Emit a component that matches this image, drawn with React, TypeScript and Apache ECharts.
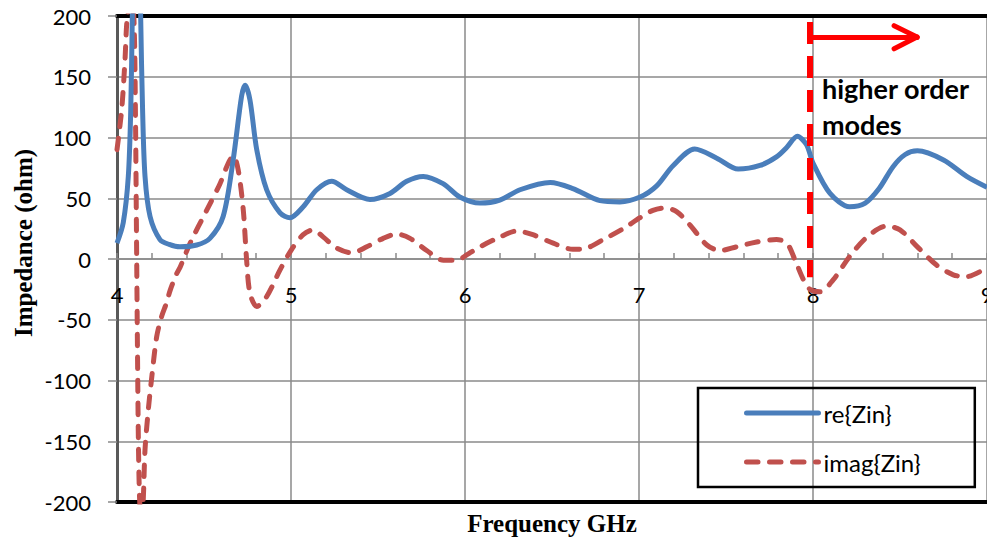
import React, { useEffect, useRef } from "react";
import * as echarts from "echarts";

// Real part of input impedance (ohm) vs frequency (GHz)
const reFreq = [
  4.0, 4.036, 4.065, 4.079, 4.088, 4.1, 4.112, 4.124, 4.136, 4.147, 4.161, 4.19, 4.247, 4.3, 4.362,
  4.458, 4.534, 4.61, 4.667, 4.716, 4.736, 4.764, 4.803, 4.86, 4.937, 4.994, 5.07, 5.148, 5.234,
  5.32, 5.454, 5.569, 5.665, 5.76, 5.874, 5.97, 6.086, 6.2, 6.316, 6.49, 6.62, 6.776, 6.89, 7.006,
  7.1, 7.197, 7.32, 7.447, 7.57, 7.695, 7.79, 7.85, 7.91, 7.963, 8.0, 8.098, 8.21, 8.3, 8.38, 8.46,
  8.53, 8.6, 8.75, 8.883, 9.0,
];
const reZin = [
  13, 30, 68, 123, 200, 320, 370, 320, 200, 123, 68, 35, 16, 12, 10,
  11.5, 17, 35, 81, 134, 143, 131, 90, 57, 38, 34, 43, 57, 64,
  57, 49, 54, 64, 68, 62, 51, 46, 48.5, 57, 63, 58, 48, 47, 51,
  60, 77, 90.5, 83, 74, 77, 84, 92, 101, 94, 79, 54, 43, 46, 58, 76,
  86, 89, 81.5, 68, 59,
];

// Imaginary part of input impedance (ohm) vs frequency (GHz)
const imFreq = [
  4.0, 4.027, 4.046, 4.056, 4.07, 4.085, 4.098, 4.106, 4.112, 4.118, 4.124, 4.132, 4.142, 4.151,
  4.161, 4.18, 4.2, 4.228, 4.257, 4.285, 4.305, 4.343, 4.362, 4.42, 4.515, 4.592, 4.64, 4.669,
  4.697, 4.726, 4.745, 4.764, 4.803, 4.86, 4.937, 5.004, 5.07, 5.127, 5.186, 5.262, 5.349, 5.435,
  5.53, 5.607, 5.684, 5.78, 5.876, 5.95, 6.017, 6.086, 6.2, 6.297, 6.39, 6.507, 6.62, 6.7, 6.795,
  6.91, 7.006, 7.08, 7.149, 7.216, 7.293, 7.39, 7.466, 7.56, 7.676, 7.79, 7.85, 7.897, 7.945,
  7.983, 8.04, 8.117, 8.21, 8.31, 8.42, 8.5, 8.6, 8.71, 8.806, 8.883, 9.0,
];
const imZin = [
  90, 123, 164, 194, 210, 212, 195, 120, 20, -80, -160, -205, -215, -198,
  -157, -124, -97, -64, -47, -36, -26, -12, -7, 13, 40, 62, 79, 85,
  73, 40, -1, -28, -39, -31, -9, 8, 20, 24, 18, 9, 5, 10,
  17, 20.5, 17, 7, -1, -1, 4, 10, 18, 23, 20, 13, 8, 9, 16,
  25, 34, 40, 42, 39, 28, 11.5, 7, 10, 14, 16, 13, -1, -17,
  -25, -27, -17, 2, 18, 27, 24, 10, -5, -13, -14.5, -7,
];

const seriesNames = ["re{Zin}", "imag{Zin}"];
const xRange = [4, 9];
const yRange = [-200, 200];
const xStep = 1;
const yStep = 50;

// "higher order modes" marker: dashed boundary and arrow (data coordinates)
const boundaryX = 7.983;
const boundaryY = [195, -15];
const arrowY = 182.7;
const arrowTipX = 8.598;
const arrowArmX = 8.466;
const arrowArmY = [192, 173];
const annotationLines = ["higher order", "modes"];

export default function App() {
  const ref = useRef<HTMLDivElement>(null);

  useEffect(() => {
    const chart = echarts.init(ref.current!, null, { renderer: "svg" });
    const gridColor = "#8a8a8a";
    const tickFont = { fontFamily: "Lato", fontSize: 22, color: "#000" };
    const red = "#ff0000";

    const gridTop = 16;
    const gridBottom = 38;
    const plotHeight = 540 - gridTop - gridBottom;
    // distance (px) of the zero line above the bottom edge of the plot
    const zeroOffset = (plotHeight * (0 - yRange[0])) / (yRange[1] - yRange[0]);

    const baseX = { type: "value", min: xRange[0], max: xRange[1], interval: xStep };

    const option = {
      animation: false,
      grid: {
        left: 117,
        right: 0,
        top: gridTop,
        bottom: gridBottom,
        containLabel: false,
        outerBoundsMode: "none",
      },
      xAxis: [
        {
          ...baseX,
          position: "bottom",
          axisLine: { show: true, onZero: false, lineStyle: { color: "#000", width: 4 } },
          axisTick: { show: false },
          axisLabel: { show: false },
          splitLine: { show: true, lineStyle: { color: gridColor, width: 1.5 } },
        },
        {
          ...baseX,
          position: "top",
          axisLine: { show: true, onZero: false, lineStyle: { color: "#000", width: 4 } },
          axisTick: { show: false },
          axisLabel: { show: false },
          splitLine: { show: false },
        },
        {
          ...baseX,
          position: "bottom",
          offset: -zeroOffset,
          axisLine: { show: true, onZero: false, lineStyle: { color: gridColor, width: 1.5 } },
          axisTick: { show: true, inside: true, length: 6, lineStyle: { color: gridColor, width: 1.5 } },
          minorTick: { show: true, splitNumber: 5, length: 6, lineStyle: { color: gridColor, width: 1.5 } },
          axisLabel: { ...tickFont, margin: 24 },
          splitLine: { show: false },
        },
      ],
      yAxis: {
        type: "value",
        min: yRange[0],
        max: yRange[1],
        interval: yStep,
        axisLine: { show: true, onZero: false, lineStyle: { color: "#595959", width: 3 } },
        axisTick: { show: true, length: 9, lineStyle: { color: gridColor, width: 1.5 } },
        axisLabel: { ...tickFont, margin: 26 },
        splitLine: { show: true, lineStyle: { color: gridColor, width: 1.5 } },
      },
      legend: {
        data: seriesNames,
        orient: "vertical",
        left: 698,
        top: 388,
        padding: [13, 54, 13, 46],
        itemWidth: 72,
        itemHeight: 14,
        itemGap: 25,
        borderColor: "#000",
        borderWidth: 2.5,
        backgroundColor: "transparent",
        itemStyle: { color: "transparent", borderWidth: 0, opacity: 0 },
        lineStyle: { width: 5, cap: "round" },
        textStyle: { fontFamily: "Lato", fontSize: 24, color: "#000", lineHeight: 24 },
      },
      series: [
        {
          name: seriesNames[0],
          type: "line",
          xAxisIndex: 0,
          data: reFreq.map((f, i) => [f, reZin[i]]),
          smooth: 0.3,
          symbol: "none",
          clip: true,
          lineStyle: { color: "#4a7ebb", width: 5 },
          itemStyle: { color: "#4a7ebb" },
          z: 3,
        },
        {
          name: seriesNames[1],
          type: "line",
          xAxisIndex: 0,
          data: imFreq.map((f, i) => [f, imZin[i]]),
          smooth: 0.3,
          symbol: "none",
          clip: true,
          lineStyle: { color: "#c0504d", width: 5, type: [11.5, 11.5], cap: "round" },
          itemStyle: { color: "#c0504d" },
          z: 2,
          markLine: {
            silent: true,
            symbol: ["none", "none"],
            label: { show: false },
            z: 5,
            data: [
              [
                { coord: [boundaryX, boundaryY[0]], symbol: "none", lineStyle: { color: red, width: 6, type: [22, 12], cap: "butt" } },
                { coord: [boundaryX, boundaryY[1]], symbol: "none" },
              ],
              [
                { coord: [boundaryX, arrowY], symbol: "none", lineStyle: { color: red, width: 5, type: "solid", cap: "round" } },
                { coord: [arrowTipX, arrowY], symbol: "none" },
              ],
              [
                { coord: [arrowArmX, arrowArmY[0]], symbol: "none", lineStyle: { color: red, width: 5, type: "solid", cap: "round" } },
                { coord: [arrowTipX, arrowY], symbol: "none" },
              ],
              [
                { coord: [arrowArmX, arrowArmY[1]], symbol: "none", lineStyle: { color: red, width: 5, type: "solid", cap: "round" } },
                { coord: [arrowTipX, arrowY], symbol: "none" },
              ],
            ],
          },
        },
      ],
      graphic: [
        {
          type: "text",
          x: 23,
          y: 243,
          rotation: Math.PI / 2,
          style: {
            text: "Impedance (ohm)",
            font: 'bold 25px "Liberation Serif"',
            fill: "#000",
            align: "center",
            verticalAlign: "middle",
          },
        },
        {
          type: "text",
          x: 552,
          y: 523,
          style: {
            text: "Frequency GHz",
            font: 'bold 25px "Liberation Serif"',
            fill: "#000",
            align: "center",
            verticalAlign: "middle",
          },
        },
        {
          type: "text",
          x: 822,
          y: 88,
          z: 10,
          style: { text: annotationLines[0], font: 'bold 27px "Lato"', fill: "#000", align: "left", verticalAlign: "middle" },
        },
        {
          type: "text",
          x: 822,
          y: 124,
          z: 10,
          style: { text: annotationLines[1], font: 'bold 27px "Lato"', fill: "#000", align: "left", verticalAlign: "middle" },
        },
      ],
    };

    chart.setOption(option as any);
    return () => chart.dispose();
  }, []);

  return <div ref={ref} style={{ position: "absolute", left: 0, top: 0, width: 987, height: 540 }} />;
}
